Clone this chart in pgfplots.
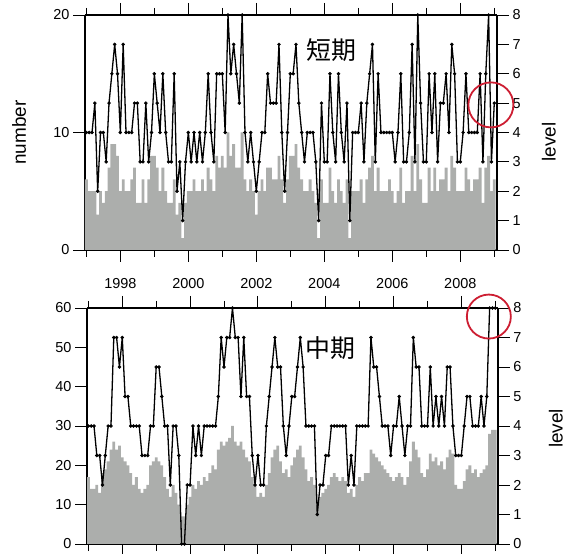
\documentclass[border=0pt]{standalone}
\usepackage{fontspec}
\setmainfont{Liberation Sans}
\newfontfamily\cjk{Noto Sans CJK JP}
\usepackage{pgfplots}
\usepackage{pgfplotstable}
\pgfplotsset{compat=1.18}
\definecolor{bargray}{RGB}{172,174,172}
\definecolor{circred}{RGB}{205,30,50}

% short term: monthly number (left axis) and level (right axis), Jan 1997 - Jan 2009
\pgfplotstableread[row sep=\\]{
num lvl\\
6 4\\ 5 4\\ 5 4\\ 5 5\\ 3 2\\ 5 4\\ 4 4\\ 5 3\\ 7 5\\ 9 6\\ 9 7\\ 8 6\\
5 4\\ 6 7\\ 5 4\\ 5 4\\ 6 4\\ 7 5\\ 4 5\\ 4 3\\ 6 3\\ 4 5\\ 6 3\\ 8 4\\
8 6\\ 7 5\\ 5 4\\ 7 6\\ 5 4\\ 4 3\\ 4 3\\ 6 6\\ 3 2\\ 4 3\\ 1 1\\ 4 3\\
5 4\\ 5 3\\ 6 4\\ 5 3\\ 5 4\\ 6 3\\ 5 4\\ 7 6\\ 6 4\\ 5 3\\ 8 6\\ 7 6\\
8 6\\ 7 4\\ 10 8\\ 8 6\\ 9 7\\ 7 6\\ 7 5\\ 10 8\\ 6 4\\ 5 3\\ 6 4\\ 5 3\\
3 2\\ 5 3\\ 6 4\\ 5 4\\ 7 6\\ 7 5\\ 6 5\\ 6 5\\ 8 7\\ 6 4\\ 4 2\\ 6 4\\
8 6\\ 8 6\\ 9 7\\ 7 5\\ 6 4\\ 5 3\\ 5 4\\ 6 4\\ 5 4\\ 4 3\\ 1 1\\ 6 5\\
4 3\\ 4 3\\ 7 6\\ 5 4\\ 4 3\\ 6 6\\ 5 4\\ 4 3\\ 6 5\\ 1 1\\ 5 4\\ 5 4\\
5 4\\ 6 5\\ 4 3\\ 6 5\\ 7 6\\ 8 7\\ 5 3\\ 7 6\\ 5 4\\ 5 4\\ 5 4\\ 6 4\\
5 4\\ 4 3\\ 5 4\\ 7 6\\ 4 3\\ 5 3\\ 5 4\\ 8 7\\ 5 3\\ 9 8\\ 6 5\\ 4 3\\
4 3\\ 7 6\\ 5 4\\ 7 6\\ 5 3\\ 6 5\\ 6 5\\ 7 6\\ 5 4\\ 8 7\\ 7 6\\ 5 3\\
5 3\\ 5 4\\ 7 6\\ 6 4\\ 5 4\\ 6 4\\ 6 4\\ 7 6\\ 4 3\\ 7 6\\ 8 8\\ 5 3\\
6 5\\
}\shortdata

% medium term: monthly number (left axis) and level (right axis), Jan 1997 - Jan 2009
\pgfplotstableread[row sep=\\]{
num lvl\\
17 4\\ 14 4\\ 14 4\\ 15 3\\ 13 3\\ 18 2\\ 19 3\\ 21 4\\ 24 4\\ 26 7\\ 24 7\\ 25 6\\
22 7\\ 21 5\\ 20 5\\ 18 4\\ 15 4\\ 17 4\\ 14 4\\ 13 3\\ 14 3\\ 15 3\\ 20 4\\ 21 4\\
22 6\\ 21 6\\ 20 5\\ 17 4\\ 14 4\\ 12 2\\ 15 4\\ 13 4\\ 10 3\\ 7 0\\ 7 0\\ 10 2\\
12 2\\ 15 4\\ 14 3\\ 16 4\\ 15 3\\ 17 4\\ 16 4\\ 18 4\\ 20 4\\ 19 4\\ 24 5\\ 26 7\\
25 6\\ 26 7\\ 27 7\\ 30 8\\ 26 7\\ 25 7\\ 26 5\\ 24 7\\ 22 5\\ 21 5\\ 17 3\\ 15 2\\
12 3\\ 13 2\\ 12 2\\ 15 4\\ 18 5\\ 22 6\\ 24 7\\ 25 6\\ 21 6\\ 18 4\\ 19 3\\ 17 4\\
20 5\\ 22 5\\ 24 6\\ 25 7\\ 22 6\\ 19 4\\ 16 4\\ 17 4\\ 15 4\\ 10 1\\ 12 2\\ 13 2\\
14 3\\ 15 3\\ 17 4\\ 18 4\\ 17 4\\ 16 4\\ 17 4\\ 16 4\\ 13 2\\ 14 3\\ 12 2\\ 15 4\\
17 4\\ 16 4\\ 18 4\\ 18 4\\ 24 7\\ 23 6\\ 22 6\\ 21 5\\ 20 4\\ 19 4\\ 18 4\\ 17 3\\
16 4\\ 17 4\\ 18 5\\ 17 4\\ 15 3\\ 17 4\\ 21 4\\ 26 7\\ 24 6\\ 22 6\\ 18 4\\ 17 4\\
19 4\\ 23 6\\ 21 4\\ 22 5\\ 20 4\\ 21 5\\ 19 4\\ 22 6\\ 24 6\\ 23 4\\ 15 3\\ 14 3\\
14 3\\ 16 4\\ 19 5\\ 20 5\\ 18 4\\ 19 4\\ 17 4\\ 18 5\\ 19 4\\ 20 5\\ 28 8\\ 29 8\\
29 8\\
}\mediumdata

\pgfplotsset{
  panel/.style={
    scale only axis, width=412bp, anchor=south west,
    xmin=1996.96, xmax=2009.08,
    tick align=outside, major tick length=12bp, minor tick length=7bp,
    every tick/.style={black, line width=0.9bp},
    axis line style={black, line width=1.1bp},
    /pgf/number format/assume math mode=true,
    tick label style={font=\fontsize{14.5}{16}\selectfont},
    label style={font=\fontsize{19}{21}\selectfont},
  },
  numaxis/.style={panel, axis y line*=left,
    xtick={1998,2000,...,2008}, minor xtick={1997,1999,...,2009}},
  lvlaxis/.style={panel, axis y line*=right, axis x line=none, xtick=\empty,
    ymin=0, ymax=8, ytick={0,...,8}, clip=false},
  bars/.style={ybar, bar width=0.0834, bar shift=0pt, fill=bargray, draw=none},
  lvlline/.style={black, line width=1.3bp, mark=*, mark size=1.5bp,
    mark options={fill=black, line width=0.5bp}},
}

\begin{document}
\begin{tikzpicture}
\useasboundingbox (0,0) rectangle (573bp,554bp);

% ---- top panel: short term ----
\begin{axis}[numaxis, at={(85bp,304bp)}, height=235bp,
  ymin=0, ymax=20, ytick={0,10,20},
  xticklabels={1998,2000,2002,2004,2006,2008},
  xticklabel style={yshift=-13bp},
  ylabel={number}, ylabel style={at={(axis description cs:-0.16,0.5)}, anchor=center}]
\addplot[bars] table[x expr=1997+\coordindex/12, y=num] {\shortdata};
\end{axis}
\begin{axis}[lvlaxis, at={(85bp,304bp)}, height=235bp,
  ylabel={level}, ylabel style={at={(axis description cs:1.126,0.46)}, anchor=center}]
\addplot[lvlline] table[x expr=1997+\coordindex/12, y=lvl] {\shortdata};
\node[font=\cjk\fontsize{25}{26}\selectfont] at (axis cs:2004.2,6.8) {短期};
\draw[circred, line width=1.8bp] (axis cs:2008.9,4.94) circle[radius=22.5bp];
\end{axis}

% ---- bottom panel: medium term ----
\begin{axis}[numaxis, at={(87bp,10bp)}, height=236bp, width=411bp,
  ymin=0, ymax=60, ytick={0,10,...,60},
  xticklabel={\relax}]
\addplot[bars] table[x expr=1997+\coordindex/12, y=num] {\mediumdata};
\end{axis}
\begin{axis}[lvlaxis, at={(87bp,10bp)}, height=236bp, width=411bp,
  ylabel={level}, ylabel style={at={(axis description cs:1.141,0.49)}, anchor=center}]
\addplot[lvlline] table[x expr=1997+\coordindex/12, y=lvl] {\mediumdata};
\node[font=\cjk\fontsize{25}{26}\selectfont] at (axis cs:2004.15,6.64) {中期};
\draw[circred, line width=1.8bp] (axis cs:2008.81,7.71) circle[radius=22bp];
\end{axis}
\end{tikzpicture}
\end{document}
